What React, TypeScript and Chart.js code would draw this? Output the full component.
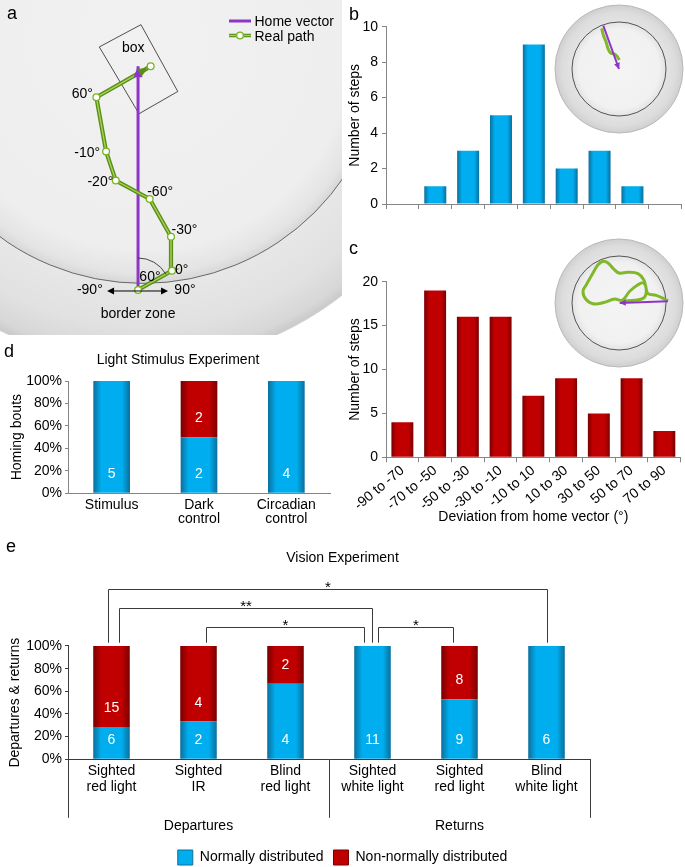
import React, { useEffect, useRef } from "react";
import { Chart, registerables } from "chart.js";

Chart.register(...registerables);

const FONT = "'Liberation Sans', Arial, Helvetica, sans-serif";
Chart.defaults.font.family = FONT;
Chart.defaults.font.size = 14;
Chart.defaults.color = "#000";

// ---------------- Data: panels b / c (step deviation histograms) ----------------
const binLabels = ["-90 to -70", "-70 to -50", "-50 to -30", "-30 to -10", "-10 to 10", "10 to 30", "30 to 50", "50 to 70", "70 to 90"];
const stepsB = [0, 1, 3, 5, 9, 2, 3, 1, 0];
const stepsC = [4, 19, 16, 16, 7, 9, 5, 9, 3];
const yTicksB = [0, 2, 4, 6, 8, 10];
const yTicksC = [0, 5, 10, 15, 20];

// ---------------- Data: panel d ----------------
const dCategories = [["Stimulus"], ["Dark", "control"], ["Circadian", "control"]];
const dNormal = [5, 2, 4];
const dNonNormal = [0, 2, 0];

// ---------------- Data: panel e ----------------
const eCategories = [
  ["Sighted", "red light"],
  ["Sighted", "IR"],
  ["Blind", "red light"],
  ["Sighted", "white light"],
  ["Sighted", "red light"],
  ["Blind", "white light"],
];
const eNormal = [6, 2, 4, 11, 9, 6];
const eNonNormal = [15, 4, 2, 0, 8, 0];
const eGroupLabels = ["Departures", "Returns"];
const eGroupLast = [2, 5];
const eBracketFrom = [0, 0, 1, 3];
const eBracketTo = [5, 3, 3, 4];
const eBracketStars = ["*", "**", "*", "*"];
const pctTicks = [0, 20, 40, 60, 80, 100];
const legendLabels = ["Normally distributed", "Non-normally distributed"];

// ---------------- Data: panel a (example path) ----------------
const pathX = [0, 35, 34, 12, -23, -33, -43, 13];
const pathY = [0, 20, 55, 94, 113, 143, 199, 231];
const pathTurnLabels = ["", "0°", "-30°", "-60°", "-20°", "-10°", "60°", ""];
const homeX = [0, 0];
const homeY = [0, 231];
const boxX = [-40, 3, 41, 1, -40];
const boxY = [251, 274, 205, 182, 251];
const arenaCenter = [5, 258];
const arenaInnerR = 251;
const arenaOuterR = 334;

// ---------------- Data: insets ----------------
const insetBHomeX = [-15.7, 0];
const insetBHomeY = [43.3, 0];
const insetBPathX = [-17.3, -15.7, -13, -10.7, -8, -4, -1.7, 0.3];
const insetBPathY = [40.7, 34, 27.3, 19.7, 15.7, 14.7, 12.3, 9];
const insetCHomeX = [49, 0.7];
const insetCHomeY = [1.7, 0];
const insetCPathX = [49, 37.3, 29, 26.7, 24.7, 19, 9, 0, -5.3, -11, -16, -21, -26, -32.7, -36, -33.3, -26, -14.3, -4.3, 3.3, 10.7, 19, 24.7, 27.3, 24.7, 15.7, 4];
const insetCPathY = [2.3, 7.7, 9.3, 16.7, 23.3, 29.3, 30.7, 30, 34, 40, 41.7, 38.3, 30, 18.3, 11.7, 4, -0.7, 0.7, 4, 2.7, 11.7, 18.3, 20, 11.7, 5, 2.7, 2.3];
const insetInnerR = 47;
const insetOuterR = 64;

// ---------------- Styles ----------------
const BLUE = "#00aeef";
const BLUE_EDGE = "#0b6f9c";
const RED = "#c00000";
const RED_EDGE = "#780000";
const PURPLE = "#8f34c9";
const GREEN = "#78b41e";
const GREEN_DARK = "#5b8e19";
const GREEN_LIGHT = "#a5d352";
const AXIS_GRAY = "#858585";
const AXIS_DARK = "#3a3a3a";

const zip = (xs: number[], ys: number[]) => xs.map((x, i) => ({ x, y: ys[i] }));
const share = (a: number[], b: number[]) => a.map((v, i) => (100 * v) / (v + b[i]));

function barFill(center: string, edge: string, pct: number) {
  return (c: any) => {
    if (c.type !== "data") return center;
    const chart = c.chart;
    const xs = chart.scales && chart.scales.x;
    if (!xs || !chart.chartArea) return center;
    const n = chart.data.labels.length;
    const x = xs.getPixelForValue(c.dataIndex);
    if (!isFinite(x)) return center;
    const w = (xs.width / n) * pct;
    const g = chart.ctx.createLinearGradient(x - w / 2, 0, x + w / 2, 0);
    g.addColorStop(0, edge);
    g.addColorStop(0.22, center);
    g.addColorStop(0.78, center);
    g.addColorStop(1, edge);
    return g;
  };
}

function arrowHead(ctx: CanvasRenderingContext2D, x: number, y: number, ang: number, len: number, half: number, color: string) {
  const bx = x - len * Math.cos(ang);
  const by = y - len * Math.sin(ang);
  ctx.save();
  ctx.fillStyle = color;
  ctx.beginPath();
  ctx.moveTo(x, y);
  ctx.lineTo(bx + half * Math.sin(ang), by - half * Math.cos(ang));
  ctx.lineTo(bx - half * Math.sin(ang), by + half * Math.cos(ang));
  ctx.closePath();
  ctx.fill();
  ctx.restore();
}

const baseOpts = {
  animation: false as const,
  responsive: false,
  events: [] as any[],
};

// ---------------- Panel a ----------------
const arenaPlugin = {
  id: "arenaA",
  beforeDatasetsDraw(chart: any) {
    const { ctx, scales } = chart;
    const xs = scales.x, ys = scales.y;
    const cx = xs.getPixelForValue(arenaCenter[0]);
    const cy = ys.getPixelForValue(arenaCenter[1]);
    const k = xs.getPixelForValue(1) - xs.getPixelForValue(0);
    const rI = arenaInnerR * k, rO = arenaOuterR * k;
    ctx.save();
    const g = ctx.createRadialGradient(cx, cy, rI, cx, cy, rO);
    g.addColorStop(0, "#e7e7e7");
    g.addColorStop(0.55, "#e1e1e1");
    g.addColorStop(0.88, "#d7d7d7");
    g.addColorStop(1, "#c9c9c9");
    ctx.beginPath();
    ctx.arc(cx, cy, rO, 0, Math.PI * 2);
    ctx.fillStyle = g;
    ctx.fill();
    ctx.strokeStyle = "#d4d4d4";
    ctx.lineWidth = 1;
    ctx.stroke();
    const g2 = ctx.createRadialGradient(cx, cy, 0, cx, cy, rI);
    g2.addColorStop(0, "#f1f1f1");
    g2.addColorStop(0.86, "#eeeeee");
    g2.addColorStop(0.96, "#e4e4e4");
    g2.addColorStop(1, "#d7d7d7");
    ctx.beginPath();
    ctx.arc(cx, cy, rI, 0, Math.PI * 2);
    ctx.fillStyle = g2;
    ctx.fill();
    ctx.strokeStyle = "#5a5a5a";
    ctx.lineWidth = 0.9;
    ctx.stroke();
    ctx.restore();
  },
};

const turnLabelStyle: [number, number, CanvasTextAlign][] = [
  [0, 0, "left"],
  [3, 3.7, "left"],
  [0.5, -2.3, "left"],
  [-2.5, -3, "left"],
  [-2.5, 5, "right"],
  [-6, 5, "right"],
  [-3.5, 1, "right"],
  [0, 0, "left"],
];

const annotA = {
  id: "annotA",
  afterDatasetsDraw(chart: any) {
    const { ctx, scales } = chart;
    const P = (x: number, y: number) => [scales.x.getPixelForValue(x), scales.y.getPixelForValue(y)];
    ctx.save();
    const [h0x, h0y] = P(homeX[0], homeY[0]);
    const [h1x, h1y] = P(homeX[1], homeY[1]);
    arrowHead(ctx, h1x, h1y, Math.atan2(h1y - h0y, h1x - h0x), 11, 4.5, PURPLE);
    const n = pathX.length;
    const [e0x, e0y] = P(pathX[n - 2], pathY[n - 2]);
    const [e1x, e1y] = P(pathX[n - 1], pathY[n - 1]);
    const ang = Math.atan2(e1y - e0y, e1x - e0x);
    arrowHead(ctx, e1x - 3.8 * Math.cos(ang), e1y - 3.8 * Math.sin(ang), ang, 9, 4.5, GREEN_DARK);

    ctx.font = `14px ${FONT}`;
    ctx.fillStyle = "#000";
    ctx.textBaseline = "alphabetic";
    pathTurnLabels.forEach((t, i) => {
      if (!t) return;
      const [px, py] = P(pathX[i], pathY[i]);
      const [dx, dy, al] = turnLabelStyle[i];
      ctx.textAlign = al;
      ctx.fillText(t, px + dx, py + dy);
    });

    const [sx, sy] = P(pathX[0], pathY[0]);
    const [p1x, p1y] = P(pathX[1], pathY[1]);
    const a1 = Math.atan2(p1y - sy, p1x - sx);
    ctx.strokeStyle = "#333";
    ctx.lineWidth = 0.9;
    ctx.beginPath();
    ctx.arc(sx, sy, 32, -Math.PI / 2, a1);
    ctx.stroke();
    ctx.textAlign = "left";
    ctx.fillText("60°", sx + 1.3, sy - 9);

    ctx.strokeStyle = "#000";
    ctx.lineWidth = 1;
    ctx.beginPath();
    ctx.moveTo(sx - 28, sy + 1);
    ctx.lineTo(sx + 27, sy + 1);
    ctx.stroke();
    arrowHead(ctx, sx - 31, sy + 1, Math.PI, 7, 3.5, "#000");
    arrowHead(ctx, sx + 30, sy + 1, 0, 7, 3.5, "#000");
    ctx.fillStyle = "#000";
    ctx.textAlign = "right";
    ctx.fillText("-90°", sx - 35.3, sy + 4.3);
    ctx.textAlign = "left";
    ctx.fillText("90°", sx + 36.3, sy + 4.3);
    ctx.textAlign = "center";
    ctx.fillText("border zone", sx, sy + 28);

    let bcx = 0, bcy = 0;
    for (let i = 0; i < 4; i++) {
      const [bx, by] = P(boxX[i], boxY[i]);
      bcx += bx / 4;
      bcy += by / 4;
    }
    ctx.fillText("box", bcx - 6, bcy - 17);

    ctx.strokeStyle = PURPLE;
    ctx.lineWidth = 3;
    ctx.beginPath();
    ctx.moveTo(229, 21);
    ctx.lineTo(251, 21);
    ctx.stroke();
    ctx.strokeStyle = GREEN_DARK;
    ctx.lineWidth = 3.5;
    ctx.beginPath();
    ctx.moveTo(229, 35.5);
    ctx.lineTo(251, 35.5);
    ctx.stroke();
    ctx.strokeStyle = GREEN_LIGHT;
    ctx.lineWidth = 1.2;
    ctx.beginPath();
    ctx.moveTo(229, 35.5);
    ctx.lineTo(251, 35.5);
    ctx.stroke();
    ctx.beginPath();
    ctx.arc(240, 35.5, 3.3, 0, Math.PI * 2);
    ctx.fillStyle = "#fff";
    ctx.fill();
    ctx.strokeStyle = GREEN;
    ctx.lineWidth = 1.3;
    ctx.stroke();
    ctx.fillStyle = "#000";
    ctx.textAlign = "left";
    ctx.font = `14px ${FONT}`;
    ctx.fillText("Home vector", 254.5, 26);
    ctx.fillText("Real path", 254.5, 40.5);
    ctx.restore();
  },
};

const configA = () => ({
  type: "scatter",
  data: {
    datasets: [
      {
        data: zip(pathX, pathY),
        showLine: true,
        borderColor: GREEN_LIGHT,
        borderWidth: 1.4,
        pointRadius: 3.4,
        pointBackgroundColor: "#fff",
        pointBorderColor: GREEN,
        pointBorderWidth: 1.3,
      },
      { data: zip(pathX, pathY), showLine: true, borderColor: GREEN_DARK, borderWidth: 4.2, pointRadius: 0 },
      { data: zip(homeX, homeY), showLine: true, borderColor: PURPLE, borderWidth: 3, pointRadius: 0 },
      { data: zip(boxX, boxY), showLine: true, borderColor: "#3c3c3c", borderWidth: 0.9, pointRadius: 0 },
    ],
  },
  options: {
    ...baseOpts,
    layout: { padding: 0 },
    plugins: { legend: { display: false }, tooltip: { enabled: false } },
    scales: {
      x: { type: "linear", min: -137, max: 205, display: false },
      y: { type: "linear", min: -41, max: 294, display: false },
    },
  },
  plugins: [arenaPlugin, annotA],
});

// ---------------- Insets ----------------
const insetArena = {
  id: "insetArena",
  beforeDatasetsDraw(chart: any) {
    const { ctx, scales } = chart;
    const cx = scales.x.getPixelForValue(0);
    const cy = scales.y.getPixelForValue(0);
    const k = scales.x.getPixelForValue(1) - cx;
    const rI = insetInnerR * k, rO = insetOuterR * k;
    ctx.save();
    const g = ctx.createRadialGradient(cx, cy, rI, cx, cy, rO);
    g.addColorStop(0, "#e3e3e3");
    g.addColorStop(0.6, "#dcdcdc");
    g.addColorStop(1, "#cfcfcf");
    ctx.beginPath();
    ctx.arc(cx, cy, rO, 0, Math.PI * 2);
    ctx.fillStyle = g;
    ctx.fill();
    ctx.strokeStyle = "#b8b8b8";
    ctx.lineWidth = 1;
    ctx.stroke();
    const g2 = ctx.createRadialGradient(cx, cy, 0, cx, cy, rI);
    g2.addColorStop(0, "#f4f4f4");
    g2.addColorStop(0.85, "#f1f1f1");
    g2.addColorStop(1, "#e3e3e3");
    ctx.beginPath();
    ctx.arc(cx, cy, rI, 0, Math.PI * 2);
    ctx.fillStyle = g2;
    ctx.fill();
    ctx.strokeStyle = "#555";
    ctx.lineWidth = 1;
    ctx.stroke();
    ctx.restore();
  },
};

const insetArrow = {
  id: "insetArrow",
  afterDatasetsDraw(chart: any) {
    const { ctx, scales } = chart;
    const d = chart.data.datasets[0].data;
    const x0 = scales.x.getPixelForValue(d[0].x), y0 = scales.y.getPixelForValue(d[0].y);
    const x1 = scales.x.getPixelForValue(d[1].x), y1 = scales.y.getPixelForValue(d[1].y);
    arrowHead(ctx, x1, y1, Math.atan2(y1 - y0, x1 - x0), 6, 3, PURPLE);
  },
};

const insetConfig = (hx: number[], hy: number[], px: number[], py: number[]) => () => ({
  type: "scatter",
  data: {
    datasets: [
      { data: zip(hx, hy), showLine: true, borderColor: PURPLE, borderWidth: 2, pointRadius: 0 },
      { data: zip(px, py), showLine: true, borderColor: "#80b82a", borderWidth: 3, pointRadius: 0, tension: 0.4 },
    ],
  },
  options: {
    ...baseOpts,
    layout: { padding: 0 },
    plugins: { legend: { display: false }, tooltip: { enabled: false } },
    scales: {
      x: { type: "linear", min: -68, max: 68, display: false },
      y: { type: "linear", min: -68, max: 68, display: false },
    },
  },
  plugins: [insetArena, insetArrow],
});

// ---------------- Panels b / c ----------------
const histConfig = (values: number[], ticks: number[], center: string, edge: string, withLabels: boolean) => () => ({
  type: "bar",
  data: {
    labels: binLabels,
    datasets: [
      {
        data: values,
        backgroundColor: barFill(center, edge, 0.67),
        borderWidth: 0,
        barPercentage: 0.67,
        categoryPercentage: 1,
      },
    ],
  },
  options: {
    ...baseOpts,
    layout: { padding: { top: withLabels ? 61.7 : 26.7, right: withLabels ? 4.3 : 3.3, left: 0, bottom: 0 } },
    plugins: { legend: { display: false }, tooltip: { enabled: false } },
    scales: {
      x: {
        grid: { drawOnChartArea: false, tickLength: 5, color: AXIS_GRAY, offset: true },
        border: { color: AXIS_GRAY },
        ticks: withLabels
          ? { autoSkip: false, minRotation: 40, maxRotation: 40, padding: 0, font: { size: 14 } }
          : { display: false },
        title: withLabels
          ? { display: true, text: "Deviation from home vector (°)", font: { size: 14 }, padding: { top: 4, bottom: 4 } }
          : { display: false },
        afterFit: (s: any) => {
          s.height = withLabels ? 72.7 : 16;
        },
      },
      y: {
        min: ticks[0],
        max: ticks[ticks.length - 1],
        ticks: { stepSize: ticks[1] - ticks[0], padding: 4, font: { size: 14 } },
        grid: { drawOnChartArea: false, tickLength: 4, color: AXIS_GRAY },
        border: { color: AXIS_GRAY },
        title: { display: true, text: "Number of steps", font: { size: 14 }, padding: { top: 6.6, bottom: 0 } },
        afterFit: (s: any) => {
          s.width = 46;
        },
      },
    },
  },
});

// ---------------- Count labels for stacked bars ----------------
const countLabels = (counts: number[][]) => ({
  id: "countLabels",
  afterDatasetsDraw(chart: any) {
    const ctx = chart.ctx;
    ctx.save();
    ctx.font = `14px ${FONT}`;
    ctx.fillStyle = "#fff";
    ctx.textAlign = "center";
    ctx.textBaseline = "alphabetic";
    chart.data.datasets.forEach((_ds: any, di: number) => {
      const meta = chart.getDatasetMeta(di);
      meta.data.forEach((el: any, i: number) => {
        const n = counts[di][i];
        if (!n) return;
        ctx.fillText(String(n), el.x, el.base - 15);
      });
    });
    ctx.restore();
  },
});

// ---------------- Panel d ----------------
const configD = () => ({
  type: "bar",
  data: {
    labels: dCategories,
    datasets: [
      { label: legendLabels[0], data: share(dNormal, dNonNormal), backgroundColor: barFill(BLUE, BLUE_EDGE, 0.42), barPercentage: 0.42, categoryPercentage: 1 },
      { label: legendLabels[1], data: share(dNonNormal, dNormal), backgroundColor: barFill(RED, RED_EDGE, 0.42), barPercentage: 0.42, categoryPercentage: 1 },
    ],
  },
  options: {
    ...baseOpts,
    layout: { padding: 0 },
    plugins: {
      legend: { display: false },
      tooltip: { enabled: false },
      title: {
        display: true,
        text: "Light Stimulus Experiment",
        font: { size: 14, weight: "normal" },
        color: "#000",
        padding: { top: 16.6, bottom: 12.6 },
      },
    },
    scales: {
      x: {
        stacked: true,
        grid: { display: false, drawTicks: false, tickLength: 0 },
        border: { color: AXIS_GRAY },
        ticks: { padding: 4, font: { size: 14, lineHeight: 1.05 } },
        afterFit: (s: any) => {
          s.height = 36.7;
        },
      },
      y: {
        stacked: true,
        min: pctTicks[0],
        max: pctTicks[pctTicks.length - 1],
        ticks: { stepSize: pctTicks[1] - pctTicks[0], padding: 3, callback: (v: any) => `${v}%` },
        grid: { drawOnChartArea: false, tickLength: 3, color: AXIS_GRAY },
        border: { color: AXIS_GRAY },
        title: { display: true, text: "Homing bouts", padding: { top: 8.6, bottom: 0 } },
        afterFit: (s: any) => {
          s.width = 68;
        },
      },
      yPad: {
        type: "linear",
        position: "right",
        grid: { display: false, drawTicks: false },
        border: { display: false },
        ticks: { display: false },
        afterFit: (s: any) => {
          s.width = 26;
        },
      },
    },
  },
  plugins: [countLabels([dNormal, dNonNormal])],
});

// ---------------- Panel e ----------------
const bracketStyle = [
  { dx0: -3.8, dx1: 0.7, rise: 57 },
  { dx0: 7.2, dx1: -0.7, rise: 38.3 },
  { dx0: 7.6, dx1: -8.1, rise: 19.3 },
  { dx0: 5.9, dx1: -6.3, rise: 19.3 },
];

const eDecor = {
  id: "eDecor",
  afterDraw(chart: any) {
    const { ctx, chartArea, scales } = chart;
    const xs = scales.x;
    const px = (i: number) => xs.getPixelForValue(i);
    ctx.save();
    ctx.strokeStyle = AXIS_DARK;
    ctx.lineWidth = 1;
    ctx.font = `15px ${FONT}`;
    ctx.fillStyle = "#000";
    ctx.textAlign = "center";
    ctx.textBaseline = "alphabetic";
    eBracketFrom.forEach((f, i) => {
      const st = bracketStyle[i];
      const x0 = Math.round(px(f) + st.dx0) + 0.5;
      const x1 = Math.round(px(eBracketTo[i]) + st.dx1) + 0.5;
      const yl = Math.round(chartArea.top - st.rise) + 0.5;
      const yb = chartArea.top - 3.3;
      ctx.beginPath();
      ctx.moveTo(x0, yb);
      ctx.lineTo(x0, yl);
      ctx.lineTo(x1, yl);
      ctx.lineTo(x1, yb);
      ctx.stroke();
      ctx.fillText(eBracketStars[i], (x0 + x1) / 2, yl + 2.5);
    });
    const edges = [chartArea.left];
    eGroupLast.forEach((last, gi) => {
      edges.push(gi === eGroupLast.length - 1 ? chartArea.right : (px(last) + px(last + 1)) / 2);
    });
    ctx.beginPath();
    edges.forEach((x) => {
      const xx = Math.round(x) + 0.5;
      ctx.moveTo(xx, chartArea.bottom);
      ctx.lineTo(xx, chartArea.bottom + 58.5);
    });
    ctx.stroke();
    ctx.font = `14px ${FONT}`;
    eGroupLabels.forEach((lab, gi) => {
      ctx.fillText(lab, (edges[gi] + edges[gi + 1]) / 2, chartArea.bottom + 71);
    });
    ctx.restore();
  },
};

const configE = () => ({
  type: "bar",
  data: {
    labels: eCategories,
    datasets: [
      { label: legendLabels[0], data: share(eNormal, eNonNormal), backgroundColor: barFill(BLUE, BLUE_EDGE, 0.42), barPercentage: 0.42, categoryPercentage: 1 },
      { label: legendLabels[1], data: share(eNonNormal, eNormal), backgroundColor: barFill(RED, RED_EDGE, 0.42), barPercentage: 0.42, categoryPercentage: 1 },
    ],
  },
  options: {
    ...baseOpts,
    layout: { padding: 0 },
    plugins: {
      tooltip: { enabled: false },
      title: {
        display: true,
        text: "Vision Experiment",
        font: { size: 14, weight: "normal" },
        color: "#000",
        padding: { top: 14.6, bottom: 79.6 },
      },
      legend: {
        display: true,
        position: "bottom",
        labels: {
          boxWidth: 15,
          boxHeight: 15,
          padding: 10,
          color: "#000",
          font: { size: 14 },
          generateLabels: () => [
            { text: legendLabels[0], fillStyle: BLUE, strokeStyle: BLUE_EDGE, lineWidth: 1, hidden: false, datasetIndex: 0 },
            { text: legendLabels[1], fillStyle: RED, strokeStyle: RED_EDGE, lineWidth: 1, hidden: false, datasetIndex: 1 },
          ],
        },
      },
    },
    scales: {
      x: {
        stacked: true,
        grid: { display: false, drawTicks: false, tickLength: 0 },
        border: { color: AXIS_DARK },
        ticks: { padding: 4.4, font: { size: 14, lineHeight: 1.1 } },
        afterFit: (s: any) => {
          s.height = 80.7;
        },
      },
      y: {
        stacked: true,
        min: pctTicks[0],
        max: pctTicks[pctTicks.length - 1],
        ticks: { stepSize: pctTicks[1] - pctTicks[0], padding: 3, callback: (v: any) => `${v}%` },
        grid: { drawOnChartArea: false, tickLength: 3, color: AXIS_DARK },
        border: { color: AXIS_DARK },
        title: { display: true, text: "Departures & returns", padding: { top: 6.6, bottom: 0 } },
        afterFit: (s: any) => {
          s.width = 68;
        },
      },
      yPad: {
        type: "linear",
        position: "right",
        grid: { display: false, drawTicks: false },
        border: { display: false },
        ticks: { display: false },
        afterFit: (s: any) => {
          s.width = 95;
        },
      },
    },
  },
  plugins: [countLabels([eNormal, eNonNormal]), eDecor],
});

// ---------------- React ----------------
function useChart(factory: () => any) {
  const ref = useRef<HTMLCanvasElement>(null);
  useEffect(() => {
    if (!ref.current) return;
    const chart = new Chart(ref.current, factory());
    return () => chart.destroy();
  }, []);
  return ref;
}

const abs = (left: number, top: number): React.CSSProperties => ({ position: "absolute", left, top });

const letterStyle = (left: number, top: number): React.CSSProperties => ({
  position: "absolute",
  left,
  top,
  font: `18px ${FONT}`,
  lineHeight: "18px",
  color: "#000",
});

export default function App() {
  const aRef = useChart(configA);
  const bRef = useChart(histConfig(stepsB, yTicksB, BLUE, BLUE_EDGE, false));
  const bInsetRef = useChart(insetConfig(insetBHomeX, insetBHomeY, insetBPathX, insetBPathY));
  const cRef = useChart(histConfig(stepsC, yTicksC, RED, RED_EDGE, true));
  const cInsetRef = useChart(insetConfig(insetCHomeX, insetCHomeY, insetCPathX, insetCPathY));
  const dRef = useChart(configD);
  const eRef = useChart(configE);

  return (
    <div style={{ position: "absolute", left: 0, top: 0, width: 685, height: 867, overflow: "hidden", background: "#fff" }}>
      <canvas ref={aRef} width={342} height={335} style={abs(0, 0)} />
      <canvas ref={bRef} width={345} height={220} style={abs(340, 0)} />
      <canvas ref={bInsetRef} width={136} height={136} style={abs(551, 1)} />
      <canvas ref={cRef} width={345} height={310} style={abs(340, 220)} />
      <canvas ref={cInsetRef} width={136} height={136} style={abs(551, 235)} />
      <canvas ref={dRef} width={356} height={195} style={abs(0, 335)} />
      <canvas ref={eRef} width={685} height={340} style={abs(0, 535)} />
      <div style={letterStyle(7, 3.5)}>a</div>
      <div style={letterStyle(349, 5.3)}>b</div>
      <div style={letterStyle(349, 238.5)}>c</div>
      <div style={letterStyle(4, 342.3)}>d</div>
      <div style={letterStyle(6, 536.5)}>e</div>
    </div>
  );
}
